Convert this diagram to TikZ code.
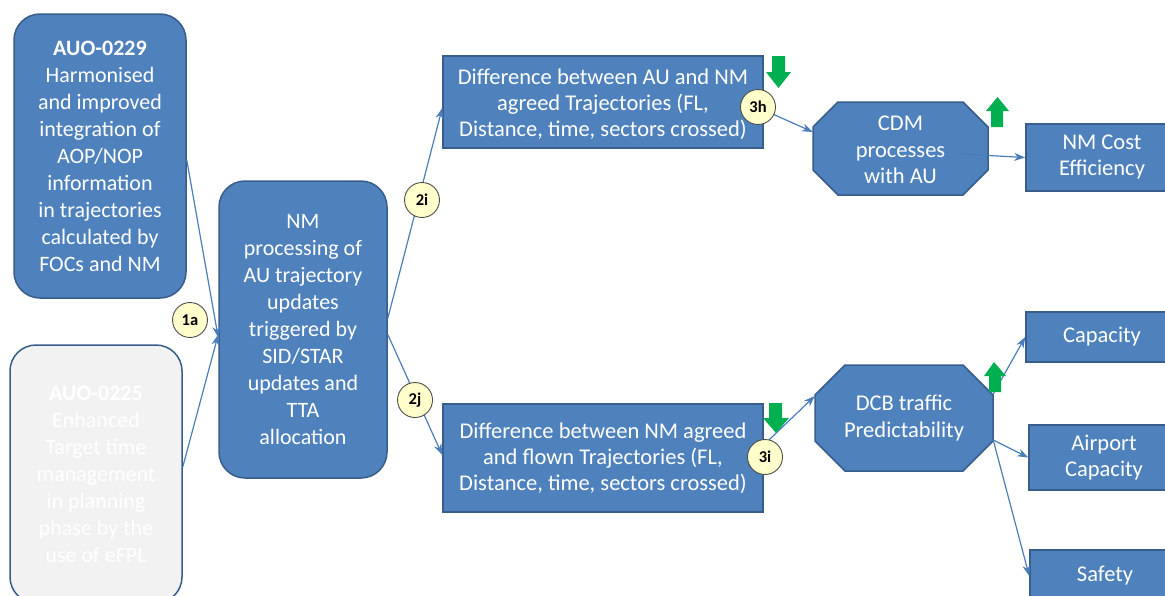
\documentclass[tikz,border=0pt]{standalone}
\usepackage{fontspec}
\setmainfont{Carlito}
\usetikzlibrary{arrows.meta}
\definecolor{boxblue}{HTML}{4F81BD}
\definecolor{boxedge}{HTML}{385D8A}
\definecolor{linkblue}{HTML}{4A7EBB}
\definecolor{ghost}{HTML}{F2F2F2}
\definecolor{badge}{HTML}{FFFFCC}
\definecolor{upgreen}{HTML}{00B050}
\begin{document}
\begin{tikzpicture}[x=1pt,y=-1pt,
  box/.style={draw=boxedge, line width=1.5pt, fill=boxblue, text=white,
    font=\fontsize{22.5}{26}\selectfont, align=center, inner sep=0pt},
  rbox/.style={box, rounded corners=26pt, font=\fontsize{22}{27}\selectfont},
  octtext/.style={text=white, font=\fontsize{22.5}{26.5}\selectfont, align=center, inner sep=0pt},
  octfill/.style={draw=boxedge, line width=1.5pt, fill=boxblue},
  conn/.style={draw=linkblue, line width=1.2pt, -{Stealth[length=11pt,width=8pt,inset=3.5pt]}},
  badgec/.style={circle, draw=black!70, line width=0.9pt, fill=badge, minimum size=35pt,
    inner sep=0pt, font=\bfseries\fontsize{16.5}{16.5}\selectfont},
  garrow/.style={fill=upgreen, draw=none}
]
\useasboundingbox (0,0) rectangle (1165,595);
\clip (0,0) rectangle (1165,595);

% left boxes
\node[rbox, minimum width=172pt, minimum height=284pt] (a229) at (100,156)
  {\textbf{AUO-0229}\\Harmonised\\and improved\\integration of\\AOP/NOP\\information\\in trajectories\\calculated by\\FOCs and NM};
\node[rbox, fill=ghost, minimum width=172pt, minimum height=258pt] (a225) at (96,474)
  {\textbf{AUO-0225}\\Enhanced\\Target time\\management\\in planning\\phase by the\\use of eFPL};
\node[rbox, minimum width=168pt, minimum height=297pt] (nm) at (303,329.5)
  {NM\\processing of\\AU trajectory\\updates\\triggered by\\SID/STAR\\updates and\\TTA\\allocation};

% difference boxes
\node[box, minimum width=320pt, minimum height=92pt] (topd) at (603,102)
  {\rule{0pt}{20pt}Difference between AU and NM\\agreed Trajectories (FL,\\Distance, time, sectors crossed)};
\node[box, minimum width=320pt, minimum height=108pt] (botd) at (603,458)
  {Difference between NM agreed\\and flown Trajectories (FL,\\Distance, time, sectors crossed)};

% octagons
\path[octfill] (838,102) -- (963,102) -- (988,127) -- (988,170) -- (963,195) -- (838,195) -- (813,170) -- (813,127) -- cycle;
\node[octtext, minimum width=175pt, minimum height=93pt] (cdm) at (900.5,150) {CDM\\processes\\with AU};
\path[octfill] (845,365) -- (963,365) -- (993,395) -- (993,441) -- (963,471) -- (845,471) -- (815,441) -- (815,395) -- cycle;
\node[octtext, minimum width=178pt, minimum height=106pt] (dcb) at (904,418) {DCB traffic\\Predictability};

% right boxes
\node[box, minimum width=152pt, minimum height=67pt] (nmc) at (1102,157.5) {NM Cost\\Efficiency};
\node[box, minimum width=152pt, minimum height=50pt] (cap) at (1102,337) {Capacity};
\node[box, minimum width=150pt, minimum height=65pt] (apc) at (1104,457.5) {Airport\\Capacity};
\node[box, minimum width=150pt, minimum height=52pt] (saf) at (1105,576) {Safety};

% connectors
\draw[conn] ([yshift=-4pt]a229.east) -- ([yshift=-8pt]nm.west);
\draw[conn] ([yshift=7pt]a225.east) -- ([yshift=-5pt]nm.west);
\draw[conn] ([yshift=11pt]nm.east) -- ([yshift=-6pt]topd.west);
\draw[conn] ([yshift=-5pt]nm.east) -- ([yshift=3pt]botd.west);
\draw[conn] ([yshift=-8pt]topd.east) -- ([yshift=18pt]cdm.west);
\draw[conn] ([yshift=13pt]botd.east) -- ([yshift=22pt]dcb.west);
\draw[conn] ([xshift=-28pt,yshift=-4pt]cdm.east) -- (nmc.west);
\draw[conn] ([yshift=24pt]dcb.east) -- (cap.west);
\draw[conn] ([yshift=-22pt]dcb.east) -- (apc.west);
\draw[conn] ([yshift=-22pt]dcb.east) -- (saf.west);

% badges
\node[badgec] (b1a) at (190,320) {1a};
\node[badgec] (b2i) at (422,200) {2i};
\node[badgec] (b2j) at (415,400) {2j};
\node[badgec] (b3h) at (758,107) {3h};
\node[badgec] (b3i) at (765,457) {3i};

% green block arrows
\path[garrow] (772,56) -- (785,56) -- (785,72) -- (791,72) -- (778.5,88) -- (766,72) -- (772,72) -- cycle;
\path[garrow] (769,403) -- (782,403) -- (782,418) -- (789,418) -- (776,433) -- (763,418) -- (769,418) -- cycle;
\path[garrow] (997.5,97) -- (1009,111) -- (1003,111) -- (1003,127) -- (991,127) -- (991,111) -- (986,111) -- cycle;
\path[garrow] (994,362) -- (1006,376) -- (1001,376) -- (1001,392) -- (989,392) -- (989,376) -- (984,376) -- cycle;
\end{tikzpicture}
\end{document}
